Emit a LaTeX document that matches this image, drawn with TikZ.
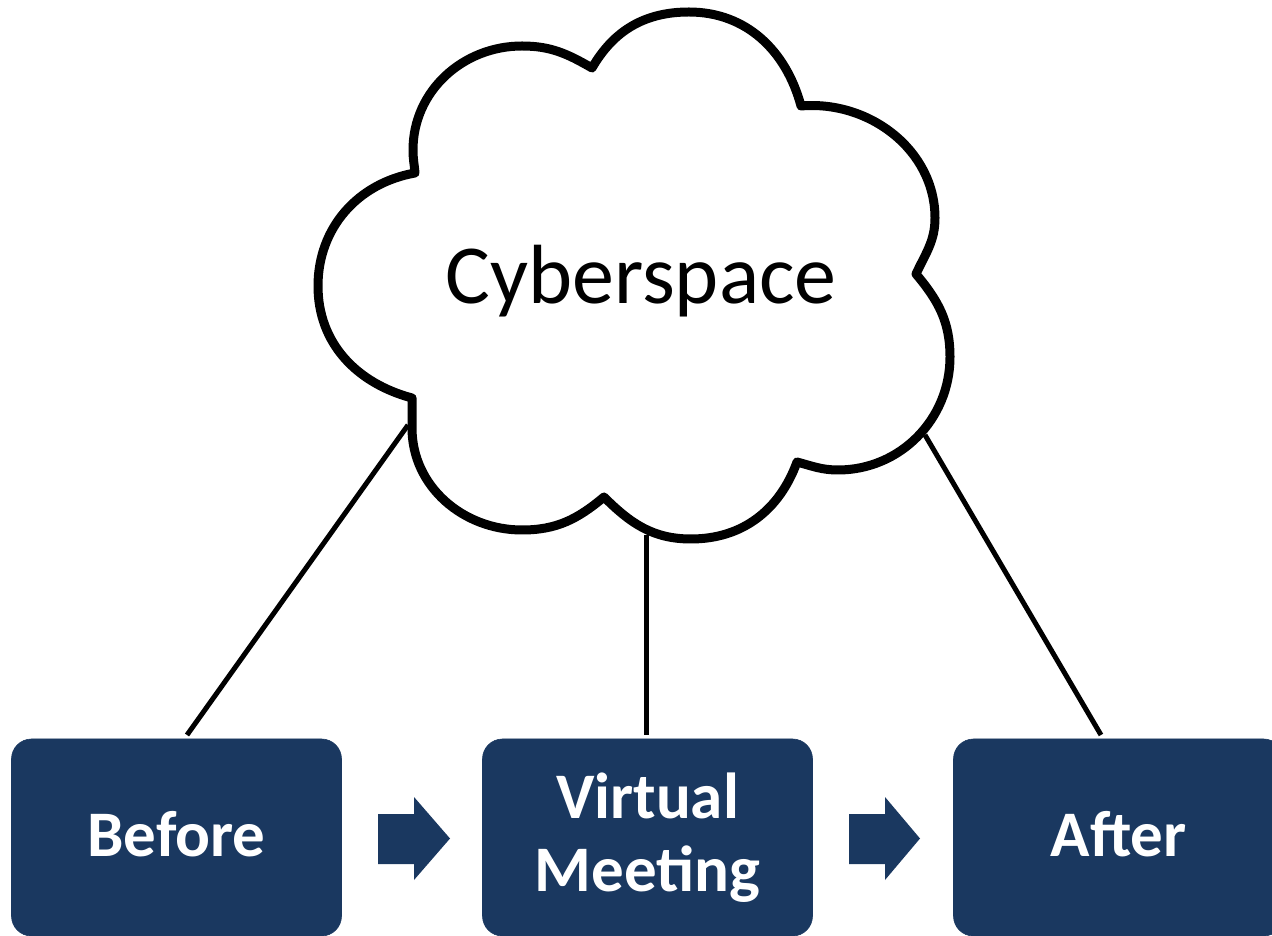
\documentclass[tikz,border=0pt]{standalone}
\usepackage{fontspec}
\setmainfont{Carlito}
\usetikzlibrary{calc}
\definecolor{navy}{HTML}{1A3860}
\tikzset{
  phase/.style={draw=navy,line width=0.6pt,fill=navy,rounded corners=20pt,minimum width=330pt,minimum height=197pt,inner sep=0pt,text=white,align=center,font=\fontsize{65}{73}\selectfont\bfseries},
  link/.style={black,line width=5pt},
  cloudline/.style={black,line width=9pt,fill=white,line join=round},
  flow/.style={fill=navy,draw=none},
  lab/.style={font=\fontsize{84}{90}\selectfont,inner sep=0pt,anchor=base}
}
\begin{document}
\begin{tikzpicture}[x=1pt,y=1pt]
\useasboundingbox (0,0) rectangle (1272,935);
\clip (0,0) rectangle (1272,935);
\fill[white] (0,0) rectangle (1272,935);
% boxes
\node[phase,text height=117pt,text depth=80pt] (before) at (176.5,97.5) {Before};
\node[phase] (meeting) at (647.5,97.5) {Virtual\\Meeting};
\node[phase,text height=117pt,text depth=80pt] (after) at (1118.5,97.5) {After};
% connector ends
\coordinate (la) at (408,510);
\coordinate (lb) at (646,400);
\coordinate (lc) at (925,500);
\coordinate (ba) at (187,200);
\coordinate (bb) at (646,200);
\coordinate (bc) at (1101,200);
\draw[link] (la) -- (ba);
\draw[link] (lb) -- (bb);
\draw[link] (lc) -- (bc);
% cloud
\draw[cloudline]
 (415,762) to[out=95,in=-90] (413,785) to[out=90,in=180] (522,889) to[out=0,in=150] (592,867)
 to[out=60,in=180] (689,923) to[out=0,in=105] (801,829)
 to[out=5,in=90] (935,717) to[out=-90,in=65] (916,661)
 to[out=-50,in=90] (950,578) to[out=-90,in=0] (838,465) to[out=180,in=-15] (797,473)
 to[out=-110,in=0] (691,396) to[out=180,in=-45] (604,438)
 to[out=-140,in=0] (522,405) to[out=180,in=-90] (412,507) to[out=90,in=-90] (412,537)
 to[out=165,in=-90] (318,649) to[out=90,in=190] (415,762) -- cycle;
\node[lab] (cyber) at (641,631) {Cyberspace};
% arrows
\fill[flow] (378,121) -- (414,121) -- (414,138) -- (450,96.5) -- (414,55) -- (414,71) -- (378,71) -- cycle;
\fill[flow] (849,121) -- (885,121) -- (885,138) -- (920,96.5) -- (885,55) -- (885,71) -- (849,71) -- cycle;
\end{tikzpicture}
\end{document}
